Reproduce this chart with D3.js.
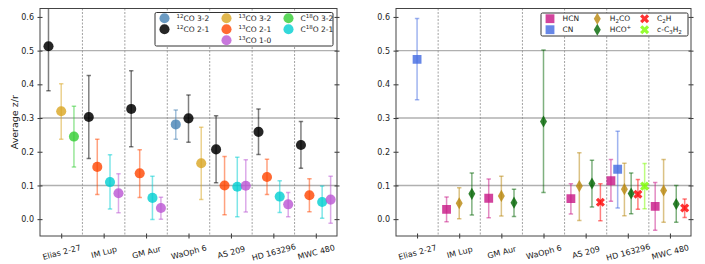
<!DOCTYPE html>
<html>
<head>
<meta charset="utf-8">
<title>Average z/r</title>
<script src="https://d3js.org/d3.v7.min.js"></script>
<style>
  body { margin: 0; background: #fff; }
  svg { display: block; font-family: "DejaVu Sans", sans-serif; }
</style>
</head>
<body>
<svg id="chart" width="705" height="264"></svg>
<script>
// disks along the x axis
var disks = ["Elias 2-27", "IM Lup", "GM Aur", "WaOph 6", "AS 209", "HD 163296", "MWC 480"];
var yTicks = [0.0, 0.1, 0.2, 0.3, 0.4, 0.5, 0.6];
var gridLines = [0.1, 0.3, 0.5];

// left panel, CO isotopologues. rows: [disk index, z/r, lower, upper]
var co12_32 = [[3, 0.281, 0.237, 0.324]];
var co12_21 = [[0, 0.513, 0.381, 0.65], [1, 0.303, 0.180, 0.426], [2, 0.327, 0.215, 0.440],
               [3, 0.299, 0.228, 0.368], [4, 0.207, 0.108, 0.307], [5, 0.259, 0.192, 0.327],
               [6, 0.220, 0.151, 0.290]];
var co13_32 = [[0, 0.320, 0.237, 0.402], [3, 0.166, 0.058, 0.273]];
var co13_21 = [[1, 0.155, 0.073, 0.237], [2, 0.136, 0.064, 0.206], [4, 0.100, 0.013, 0.186],
               [5, 0.125, 0.073, 0.178], [6, 0.071, 0.022, 0.120]];
var c18o_32 = [[0, 0.245, 0.155, 0.335]];
var c18o_21 = [[1, 0.110, 0.030, 0.191], [2, 0.063, -0.001, 0.127], [4, 0.096, 0.007, 0.184],
               [5, 0.067, 0.020, 0.114], [6, 0.051, 0.003, 0.098]];
var co13_10 = [[1, 0.077, 0.019, 0.135], [2, 0.033, 0.000, 0.065], [4, 0.099, 0.021, 0.176],
               [5, 0.044, 0.007, 0.079], [6, 0.058, -0.012, 0.127]];

// right panel, other molecules
var hcn = [[1, 0.029, -0.008, 0.066], [2, 0.062, 0.004, 0.119], [4, 0.061, 0.015, 0.105],
           [5, 0.114, 0.053, 0.177], [6, 0.038, -0.033, 0.109]];
var cn = [[0, 0.474, 0.354, 0.595], [5, 0.148, 0.033, 0.261]];
var h2co = [[1, 0.047, 0.001, 0.093], [2, 0.069, 0.009, 0.127], [4, 0.098, -0.004, 0.197],
            [5, 0.089, 0.010, 0.166], [6, 0.085, -0.009, 0.177]];
var hcop = [[1, 0.075, 0.012, 0.137], [2, 0.049, 0.008, 0.089], [3, 0.290, 0.079, 0.502],
            [4, 0.106, 0.036, 0.175], [5, 0.076, 0.016, 0.137], [6, 0.045, -0.009, 0.100]];
var c2h = [[4, 0.050, -0.005, 0.105], [5, 0.074, 0.029, 0.118], [6, 0.033, 0.005, 0.060]];
var cc3h2 = [[5, 0.098, 0.031, 0.165]];

// series: name uses ^{} for superscript and _{} for subscript
var coSeries = [
    {name: "^{12}CO 3-2", data: co12_32, color: "#4682B4", shape: "circle"},
    {name: "^{12}CO 2-1", data: co12_21, color: "#000000", shape: "circle"},
    {name: "^{13}CO 3-2", data: co13_32, color: "#DAA520", shape: "circle"},
    {name: "^{13}CO 2-1", data: co13_21, color: "#FF4500", shape: "circle"},
    {name: "C^{18}O 3-2", data: c18o_32, color: "#32CD32", shape: "circle"},
    {name: "C^{18}O 2-1", data: c18o_21, color: "#00CED1", shape: "circle"},
    {name: "^{13}CO 1-0", data: co13_10, color: "#BA55D3", shape: "circle"}
];
var molSeries = [
    {name: "HCN", data: hcn, color: "#C71585", shape: "square"},
    {name: "CN", data: cn, color: "#4169E1", shape: "square"},
    {name: "H_{2}CO", data: h2co, color: "#B8860B", shape: "diamond"},
    {name: "HCO^{+}", data: hcop, color: "#006400", shape: "diamond"},
    {name: "C_{2}H", data: c2h, color: "#FF0000", shape: "x"},
    {name: "c-C_{3}H_{2}", data: cc3h2, color: "#7CFC00", shape: "x"}
];

// legend columns (series names)
var coLegend = [["^{12}CO 3-2", "^{12}CO 2-1"], ["^{13}CO 3-2", "^{13}CO 2-1", "^{13}CO 1-0"], ["C^{18}O 3-2", "C^{18}O 2-1"]];
var molLegend = [["HCN", "CN"], ["H_{2}CO", "HCO^{+}"], ["C_{2}H", "c-C_{3}H_{2}"]];

// horizontal spread of points inside one disk slot, by number of points
var spread = {1: [0], 2: [-0.15, 0.15], 3: [-0.3, 0, 0.3], 4: [-0.35, -0.15, 0.15, 0.35],
              5: [-0.4, -0.2, 0, 0.2, 0.4], 6: [-0.4, -0.24, -0.08, 0.08, 0.24, 0.4]};

var svg = d3.select("#chart");
var plotTop = 8.5, plotBottom = 236;

function symbolPath(shape) {
    if (shape === "square") return d3.symbol(d3.symbolSquare, 78)();
    if (shape === "diamond") return d3.symbol(d3.symbolDiamond, 42)();
    if (shape === "x") return d3.symbol(d3.symbolCross, 52)();
    return d3.symbol(d3.symbolCircle, 80)();
}

function addRichText(sel, label) {
    // split "^{12}CO" style markup into tspans
    var re = /([\^_])\{([^}]*)\}|([^\^_]+)/g, m;
    var shift = 0;
    while ((m = re.exec(label)) !== null) {
        if (m[3]) {
            sel.append("tspan").attr("dy", -shift).text(m[3]);
            shift = 0;
        } else {
            var dy = m[1] === "^" ? -3 : 2;
            sel.append("tspan").attr("dy", dy - shift).attr("font-size", "5.5px").text(m[2]);
            shift = dy;
        }
    }
}

function drawPanel(id, x0, x1, series, legendCols, legendBox, yLabel) {
    var x = d3.scaleLinear().domain([-0.5, 6.5]).range([x0, x1]);
    var y = d3.scaleLinear().domain([-0.05, 0.625]).range([plotBottom, plotTop]);
    var g = svg.append("g");

    g.append("clipPath").attr("id", "clip" + id)
        .append("rect").attr("x", x0).attr("y", plotTop).attr("width", x1 - x0).attr("height", plotBottom - plotTop);

    // grid lines
    g.selectAll(".grid").data(gridLines).enter().append("line")
        .attr("x1", x0).attr("x2", x1)
        .attr("y1", function(d) { return y(d); }).attr("y2", function(d) { return y(d); })
        .style("stroke", "#b0b0b0").style("stroke-width", 1.4);

    // dashed dividers between disks
    g.selectAll(".div").data(d3.range(6)).enter().append("line")
        .attr("x1", function(d) { return x(d + 0.5); }).attr("x2", function(d) { return x(d + 0.5); })
        .attr("y1", plotTop).attr("y2", plotBottom)
        .style("stroke", "#8a8a8a").style("stroke-width", 0.8).style("stroke-dasharray", "2,1.5");

    // work out x offset of every point from the number of points per disk
    var counts = disks.map(function() { return 0; });
    series.forEach(function(s) { s.data.forEach(function(r) { counts[r[0]]++; }); });
    var used = disks.map(function() { return 0; });
    var pts = [];
    series.forEach(function(s) {
        s.data.forEach(function(r) {
            var off = spread[counts[r[0]]][used[r[0]]++];
            pts.push({s: s, xv: r[0] + off, v: r[1], lo: r[2], hi: r[3]});
        });
    });

    var data = g.append("g").attr("clip-path", "url(#clip" + id + ")");
    series.forEach(function(s) {
        var ps = pts.filter(function(p) { return p.s === s; });
        var eg = data.append("g").style("stroke", s.color).style("stroke-opacity", 0.5).style("stroke-width", 1.5);
        ps.forEach(function(p) {
            var cx = x(p.xv);
            eg.append("line").attr("x1", cx).attr("x2", cx).attr("y1", y(p.lo)).attr("y2", y(p.hi));
            eg.append("line").attr("x1", cx - 2.2).attr("x2", cx + 2.2).attr("y1", y(p.lo)).attr("y2", y(p.lo));
            eg.append("line").attr("x1", cx - 2.2).attr("x2", cx + 2.2).attr("y1", y(p.hi)).attr("y2", y(p.hi));
        });
        data.append("g").selectAll("path").data(ps).enter().append("path")
            .attr("d", symbolPath(s.shape))
            .attr("transform", function(p) {
                return "translate(" + x(p.xv) + "," + y(p.v) + ")" + (s.shape === "x" ? " rotate(45)" : "");
            })
            .style("fill", s.color).style("fill-opacity", s.color === "#000000" ? 0.85 : 0.8);
    });

    // axes
    var yl = g.append("g").attr("transform", "translate(" + x0 + ",0)")
        .call(d3.axisLeft(y).tickValues(yTicks).tickFormat(d3.format(".1f")).tickSize(5).tickPadding(1));
    yl.selectAll(".tick line").attr("x1", -2.5).attr("x2", 2.5);
    var yr = g.append("g").attr("transform", "translate(" + x1 + ",0)")
        .call(d3.axisRight(y).tickValues(yTicks).tickFormat("").tickSize(5));
    yr.selectAll(".tick line").attr("x1", -2.5).attr("x2", 2.5);
    var xb = g.append("g").attr("transform", "translate(0," + plotBottom + ")")
        .call(d3.axisBottom(x).tickValues(d3.range(7)).tickFormat(function(i) { return disks[i]; }).tickSize(5));
    xb.selectAll(".tick line").attr("y1", -2.5).attr("y2", 2.5);
    xb.selectAll(".tick text")
        .attr("y", 0).attr("dy", 0)
        .attr("transform", "translate(0,16.5) rotate(-15)")
        .attr("dominant-baseline", "central");
    [yl, yr, xb].forEach(function(a) {
        a.select(".domain").remove();
        a.selectAll(".tick line").style("stroke", "#333").style("stroke-width", 1);
        a.selectAll(".tick text").style("font-size", "8px").style("fill", "#222")
            .style("font-family", "DejaVu Sans, sans-serif");
    });

    g.append("rect").attr("x", x0).attr("y", plotTop).attr("width", x1 - x0).attr("height", plotBottom - plotTop)
        .style("fill", "none").style("stroke", "#444").style("stroke-width", 1);

    if (yLabel) {
        g.append("text").attr("transform", "translate(14," + ((plotTop + plotBottom) / 2) + ") rotate(-90)")
            .attr("text-anchor", "middle").attr("dominant-baseline", "central")
            .style("font-size", "9.5px").style("fill", "#222").text(yLabel);
    }

    // legend
    var lg = g.append("g");
    lg.append("rect").attr("x", legendBox.x).attr("y", legendBox.y)
        .attr("width", legendBox.w).attr("height", legendBox.h).attr("rx", 1.5)
        .style("fill", "#fff").style("stroke", "#333").style("stroke-width", 1);
    legendCols.forEach(function(col, ci) {
        col.forEach(function(name, ri) {
            var s = series.find(function(d) { return d.name === name; });
            var mx = legendBox.x + legendBox.mx + ci * legendBox.colW;
            var my = legendBox.y + 5.7 + ri * 11;
            lg.append("path").attr("d", symbolPath(s.shape))
                .attr("transform", "translate(" + mx + "," + my + ")" + (s.shape === "x" ? " rotate(45)" : ""))
                .style("fill", s.color).style("fill-opacity", s.color === "#000000" ? 0.85 : 0.8);
            var t = lg.append("text").attr("x", mx + legendBox.tx).attr("y", my + 2.6)
                .style("font-size", "7.5px").style("fill", "#222");
            addRichText(t, name);
        });
    });
}

drawPanel("L", 40, 337, coSeries, coLegend,
    {x: 155, y: 12.5, w: 178, h: 33.5, mx: 9.5, tx: 12, colW: 62}, "Average z/r");
drawPanel("R", 396, 691, molSeries, molLegend,
    {x: 541, y: 13, w: 147, h: 23, mx: 9, tx: 12.5, colW: 47.3}, null);
</script>
</body>
</html>
